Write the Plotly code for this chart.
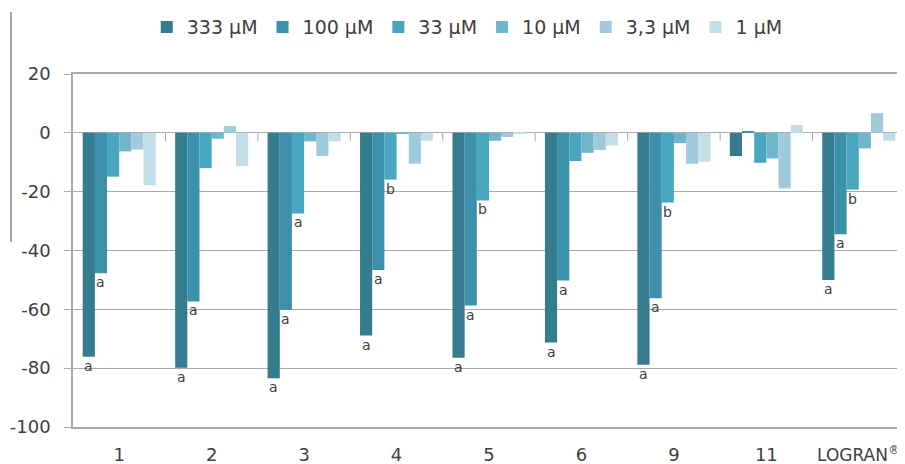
import plotly.graph_objects as go

categories = ["1", "2", "3", "4", "5", "6", "9", "11", "LOGRAN"]
tick_labels = ["1", "2", "3", "4", "5", "6", "9", "11",
               "<span style='font-size:17px'>LOGRAN</span><sup>®</sup>"]
series_names = ["333 µM", "100 µM", "33 µM", "10 µM", "3,3 µM", "1 µM"]
y_ticks = [20, 0, -20, -40, -60, -80, -100]
y_tick_labels = ["20", "0", "-20", "-40", "-60", "-80", "-100"]

v333 = [-76.1, -79.9, -83.4, -68.9, -76.5, -71.3, -78.8, -7.9, -50.0]
v100 = [-47.7, -57.3, -60.1, -46.6, -58.7, -50.2, -56.2, 0.6, -34.5]
v33 = [-14.9, -12.0, -27.4, -15.9, -23.0, -9.6, -23.7, -10.2, -19.3]
v10 = [-6.3, -2.0, -2.9, -0.4, -2.7, -6.8, -3.5, -8.7, -5.3]
v3_3 = [-5.7, 2.3, -7.9, -10.5, -1.4, -5.8, -10.5, -18.9, 6.7]
v1 = [-17.9, -11.3, -2.9, -2.7, -0.3, -4.3, -9.8, 2.7, -2.7]

l333 = ["a", "a", "a", "a", "a", "a", "a", "", "a"]
l100 = ["a", "a", "a", "a", "a", "a", "a", "", "a"]
l33 = ["", "", "a", "b", "b", "", "b", "", "b"]
empty = [""] * 9

values = [v333, v100, v33, v10, v3_3, v1]
letters = [l333, l100, l33, empty, empty, empty]
colors = ["#347c8e", "#3d90a9", "#48a6c0", "#6fb5cb", "#9fcadb", "#c4dee7"]

FONT = "DejaVu Sans"
TXT = "#404040"
GRID = "#a9a9a9"

# page body has an 8px margin, so the figure is sized to fill the rest
W, H = 897, 456
ML, MR, MT, MB = 65, 0, 66, 37
BARGAP = 0.21

fig = go.Figure()
for name, vals, col in zip(series_names, values, colors):
    fig.add_trace(go.Bar(
        x=categories, y=vals, name=name, marker_color=col,
        marker_line_width=0, hoverinfo="x+y+name",
    ))

# significance letters under the bar ends
n_series = len(series_names)
cat_px = (W - ML - MR) / len(categories)
bar_px = cat_px * (1 - BARGAP) / n_series
annotations = []
for j, (vals, lets) in enumerate(zip(values, letters)):
    for i, (v, t) in enumerate(zip(vals, lets)):
        if t:
            annotations.append(dict(
                x=i, y=v, xref="x", yref="y", text=t, showarrow=False,
                xshift=(j - (n_series - 1) / 2) * bar_px, yshift=-9,
                yanchor="middle", font=dict(family=FONT, size=14, color=TXT)))

shapes = []
for i in range(len(categories) - 1):
    shapes.append(dict(type="line", xref="x", yref="y", ysizemode="pixel",
                       yanchor=0, x0=i + 0.5, x1=i + 0.5, y0=0, y1=-8,
                       line=dict(color=GRID, width=1)))
plot_w = W - ML - MR
plot_h = H - MT - MB
lx = (3 - ML) / plot_w
fig_y0 = (H - MB - 234) / plot_h
fig_y1 = (H - MB - 4) / plot_h
shapes.append(dict(type="line", xref="paper", yref="paper",
                   x0=lx, x1=lx, y0=fig_y0, y1=fig_y1,
                   line=dict(color="#888888", width=1.5)))

fig.update_layout(
    width=W, height=H,
    margin=dict(l=ML, r=MR, t=MT, b=MB, autoexpand=False),
    paper_bgcolor="white", plot_bgcolor="white",
    barmode="group", bargap=BARGAP, bargroupgap=0,
    font=dict(family=FONT, size=18, color=TXT),
    showlegend=True,
    legend=dict(orientation="h", xref="container", yref="container",
                x=0.512, xanchor="center", y=0.958, yanchor="middle",
                font=dict(family=FONT, size=19, color=TXT),
                itemwidth=30, tracegroupgap=0),
    shapes=shapes,
    annotations=annotations,
)
fig.update_xaxes(
    type="category", tickvals=categories, ticktext=tick_labels,
    showline=True, linecolor=GRID, linewidth=1.5, mirror=True,
    ticks="outside", ticklen=11, tickcolor="rgba(0,0,0,0)",
    showgrid=False, automargin=False,
    tickfont=dict(family=FONT, size=18, color=TXT),
)
fig.update_yaxes(
    range=[-100, 20], tickvals=y_ticks, ticktext=y_tick_labels,
    showgrid=True, gridcolor=GRID, gridwidth=1,
    zeroline=True, zerolinecolor=GRID, zerolinewidth=1,
    showline=True, linecolor=GRID, linewidth=1.5,
    ticks="outside", ticklen=7, tickcolor=GRID, automargin=False,
    ticklabelstandoff=10,
    tickfont=dict(family=FONT, size=18, color=TXT),
)

fig.write_html("out.html")
